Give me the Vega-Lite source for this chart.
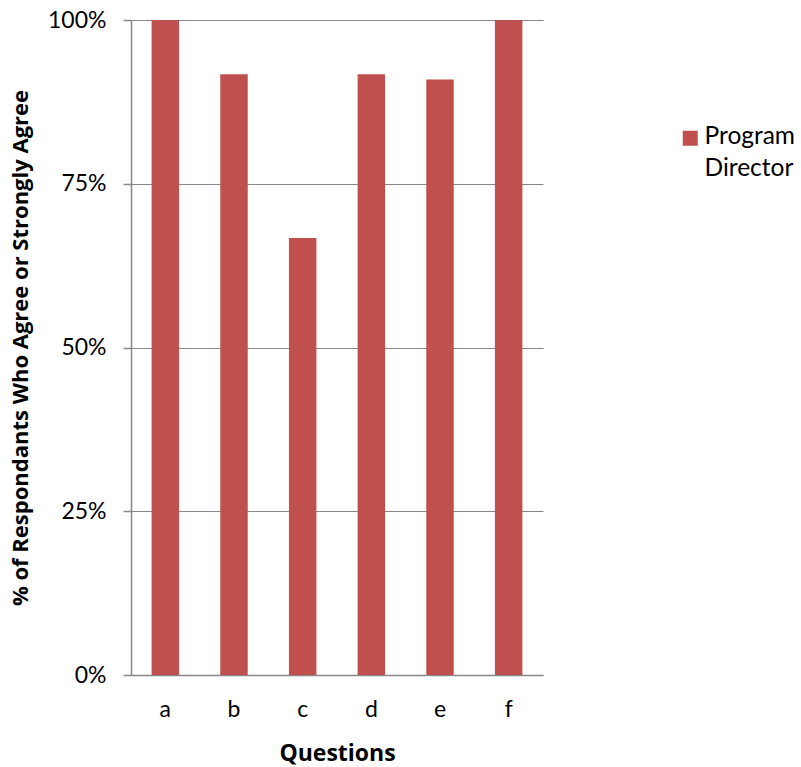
{
  "$schema": "https://vega.github.io/schema/vega-lite/v6.json",
  "width": 412,
  "height": 655,
  "autosize": {"type": "none"},
  "padding": {"left": 131, "top": 20, "right": 258, "bottom": 92},
  "background": "white",
  "config": {
    "font": "Lato",
    "view": {"stroke": null}
  },
  "data": {
    "values": [
      {"question": "a", "pct": 1.0, "group": "Program Director"},
      {"question": "b", "pct": 0.917, "group": "Program Director"},
      {"question": "c", "pct": 0.667, "group": "Program Director"},
      {"question": "d", "pct": 0.917, "group": "Program Director"},
      {"question": "e", "pct": 0.909, "group": "Program Director"},
      {"question": "f", "pct": 1.0, "group": "Program Director"}
    ]
  },
  "mark": {"type": "bar"},
  "encoding": {
    "x": {
      "field": "question",
      "type": "nominal",
      "scale": {"paddingInner": 0.6, "paddingOuter": 0.3},
      "axis": {
        "title": "Questions",
        "titleFont": "Open Sans",
        "titleFontSize": 23,
        "titleFontWeight": "bold",
        "titleColor": "black",
        "titlePadding": 21,
        "labelAngle": 0,
        "labelFontSize": 23,
        "labelColor": "black",
        "labelPadding": 23,
        "ticks": false,
        "domainColor": "#888888",
        "domainWidth": 1.5
      }
    },
    "y": {
      "field": "pct",
      "type": "quantitative",
      "scale": {"domain": [0, 1]},
      "axis": {
        "title": "% of Respondants Who Agree or Strongly Agree",
        "titleFont": "Open Sans",
        "titleFontSize": 22,
        "titleFontWeight": "bold",
        "titleColor": "black",
        "titlePadding": 15,
        "values": [0, 0.25, 0.5, 0.75, 1],
        "format": ".0%",
        "labelFontSize": 23,
        "labelColor": "black",
        "labelPadding": 17,
        "tickSize": 8,
        "tickColor": "#888888",
        "tickWidth": 1.5,
        "domainColor": "#888888",
        "domainWidth": 1.5,
        "gridColor": "#888888",
        "gridWidth": 1.2
      }
    },
    "color": {
      "field": "group",
      "type": "nominal",
      "scale": {"range": ["#C0504D"]},
      "legend": {
        "title": null,
        "orient": "none",
        "legendX": 547,
        "legendY": 106,
        "symbolType": "square",
        "symbolSize": 225,
        "symbolStrokeWidth": 0,
        "labelFontSize": 24.5,
        "labelColor": "black",
        "labelOffset": 2,
        "labelLimit": 250,
        "labelExpr": "['Program', 'Director']",
        "labelBaseline": "alphabetic",
        "encode": {
          "labels": {
            "update": {
              "dy": {"value": 6},
              "lineHeight": {"value": 32}
            }
          }
        }
      }
    }
  }
}
